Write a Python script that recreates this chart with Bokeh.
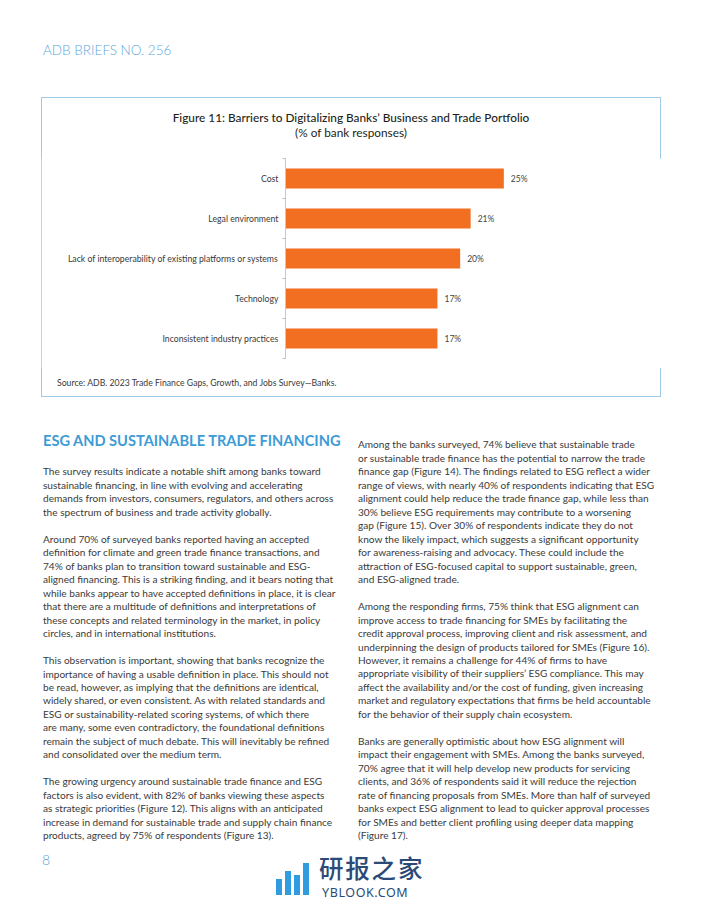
from bokeh.plotting import figure
from bokeh.models import ColumnDataSource, Range1d, FixedTicker, Div
from bokeh.layouts import column
from bokeh.core.properties import value
from bokeh.embed import file_html
from bokeh.resources import INLINE

# ---------------- chart data ----------------
categories = [
    "Cost",
    "Legal environment",
    "Lack of interoperability of existing platforms or systems",
    "Technology",
    "Inconsistent industry practices",
]
shares = [25.0, 21.2, 20.0, 17.4, 17.4]
chart_title = "Figure 11: Barriers to Digitalizing Banks\u2019 Business and Trade Portfolio"
chart_subtitle = "(% of bank responses)"
source_note = "Source: ADB. 2023 Trade Finance Gaps, Growth, and Jobs Survey\u2014Banks."

# ---------------- page text ----------------
header_text = "ADB BRIEFS NO. 256"
section_heading = "ESG AND SUSTAINABLE TRADE FINANCING"
left_paragraphs = [
    ["The survey results indicate a notable shift among banks toward",
     "sustainable financing, in line with evolving and accelerating",
     "demands from investors, consumers, regulators, and others across",
     "the spectrum of business and trade activity globally."],
    ["Around 70% of surveyed banks reported having an accepted",
     "definition for climate and green trade finance transactions, and",
     "74% of banks plan to transition toward sustainable and ESG-",
     "aligned financing. This is a striking finding, and it bears noting that",
     "while banks appear to have accepted definitions in place, it is clear",
     "that there are a multitude of definitions and interpretations of",
     "these concepts and related terminology in the market, in policy",
     "circles, and in international institutions."],
    ["This observation is important, showing that banks recognize the",
     "importance of having a usable definition in place. This should not",
     "be read, however, as implying that the definitions are identical,",
     "widely shared, or even consistent. As with related standards and",
     "ESG or sustainability-related scoring systems, of which there",
     "are many, some even contradictory, the foundational definitions",
     "remain the subject of much debate. This will inevitably be refined",
     "and consolidated over the medium term."],
    ["The growing urgency around sustainable trade finance and ESG",
     "factors is also evident, with 82% of banks viewing these aspects",
     "as strategic priorities (Figure 12). This aligns with an anticipated",
     "increase in demand for sustainable trade and supply chain finance",
     "products, agreed by 75% of respondents (Figure 13)."],
]
right_paragraphs = [
    ["Among the banks surveyed, 74% believe that sustainable trade",
     "or sustainable trade finance has the potential to narrow the trade",
     "finance gap (Figure 14). The findings related to ESG reflect a wider",
     "range of views, with nearly 40% of respondents indicating that ESG",
     "alignment could help reduce the trade finance gap, while less than",
     "30% believe ESG requirements may contribute to a worsening",
     "gap (Figure 15). Over 30% of respondents indicate they do not",
     "know the likely impact, which suggests a significant opportunity",
     "for awareness-raising and advocacy. These could include the",
     "attraction of ESG-focused capital to support sustainable, green,",
     "and ESG-aligned trade."],
    ["Among the responding firms, 75% think that ESG alignment can",
     "improve access to trade financing for SMEs by facilitating the",
     "credit approval process, improving client and risk assessment, and",
     "underpinning the design of products tailored for SMEs (Figure 16).",
     "However, it remains a challenge for 44% of firms to have",
     "appropriate visibility of their suppliers\u2019 ESG compliance. This may",
     "affect the availability and/or the cost of funding, given increasing",
     "market and regulatory expectations that firms be held accountable",
     "for the behavior of their supply chain ecosystem."],
    ["Banks are generally optimistic about how ESG alignment will",
     "impact their engagement with SMEs. Among the banks surveyed,",
     "70% agree that it will help develop new products for servicing",
     "clients, and 36% of respondents said it will reduce the rejection",
     "rate of financing proposals from SMEs. More than half of surveyed",
     "banks expect ESG alignment to lead to quicker approval processes",
     "for SMEs and better client profiling using deeper data mapping",
     "(Figure 17)."],
]
page_number = "8"
watermark_cn = "研报之家"
watermark_en = "YBLOOK.COM"

BLUE = "#3d9bd6"
LIGHT_BLUE = "#5ea7da"
BOX = "#9fcbe8"
ORANGE = "#f26f21"
FONT = "Lato"
TXT = "#3a3a3a"

# ---------------- header ----------------
header_div = Div(
    text=(f'<div style="position:relative;width:686px;height:97px;">'
          f'<div style="position:absolute;left:43px;top:41px;line-height:18px;'
          f'font-family:{FONT};font-size:13.5px;font-weight:300;color:{LIGHT_BLUE};white-space:nowrap;">'
          f'{header_text}</div></div>'),
    width=686, height=97, margin=0, styles={"overflow": "visible"},
)

# ---------------- chart ----------------
ypos = [i + 0.5 for i in range(len(categories))]
labels = [f"{round(v)}%" for v in shares]
src = ColumnDataSource(dict(y=ypos, v=shares, cat=categories, lbl=labels))

title_div = Div(
    text=(f'<div style="width:620px;height:61px;position:relative;font-family:{FONT};'
          f'color:#231f20;text-align:center;">'
          f'<div style="position:absolute;left:0;width:620px;top:13px;line-height:16px;font-size:11.8px;font-weight:500;">{chart_title}</div>'
          f'<div style="position:absolute;left:0;width:620px;top:28px;line-height:16px;font-size:11.8px;">{chart_subtitle}</div>'
          f'</div>'),
    width=620, height=61, margin=0, styles={"overflow": "visible"},
)

p = figure(
    width=620, height=210,
    x_range=Range1d(0, 30), y_range=Range1d(len(categories), 0),
    output_backend="svg", toolbar_location=None,
    min_border_left=244, min_border_right=114, min_border_top=0, min_border_bottom=10,
)
p.outline_line_color = None
p.background_fill_color = "white"
p.border_fill_color = "white"
p.xgrid.visible = False
p.ygrid.visible = False
p.xaxis.visible = False

p.hbar(y="y", right="v", left=0, height=0.5, source=src,
       fill_color=ORANGE, line_color=None)
p.text(x="v", y="y", text="lbl", source=src, x_offset=7,
       text_baseline="middle", text_align="left",
       text_font=value(FONT), text_font_size="8.5px", text_color="#444444")

ya = p.yaxis[0]
ya.ticker = FixedTicker(ticks=ypos, minor_ticks=list(range(len(categories) + 1)))
ya.major_label_overrides = {y: c for y, c in zip(ypos, categories)}
ya.major_tick_line_color = None
ya.major_tick_out = 0
ya.major_tick_in = 0
ya.minor_tick_out = 3
ya.minor_tick_in = 0
ya.minor_tick_line_color = "#bdbdbd"
ya.axis_line_color = "#c8c8c8"
ya.major_label_standoff = 4
ya.major_label_text_font = FONT
ya.major_label_text_font_size = "8.7px"
ya.major_label_text_color = TXT

source_div = Div(
    text=(f'<div style="width:620px;height:29px;position:relative;">'
          f'<div style="position:absolute;left:16px;top:8px;line-height:14px;font-family:{FONT};'
          f'font-size:8.7px;color:{TXT};white-space:nowrap;">{source_note}</div></div>'),
    width=620, height=29, margin=0, styles={"overflow": "visible"},
)

chart_box = column(title_div, p, source_div, width=620, height=300,
                   styles={"outline": f"1.5px solid {BOX}", "outline-offset": "-1px",
                           "background": "white"})
chart_box.margin = (0, 0, 0, 41)

# ---------------- body text ----------------
LH = 13.48


def para_html(paras):
    return "<br><br>".join("<br>".join(lines) for lines in paras)


# simple watermark icon (decorative bars)
icon_bars = "".join(
    f'<div style="position:absolute;left:{276 + i * 9}px;top:{498 - h}px;width:6px;height:{h}px;background:#2f9be0;"></div>'
    for i, h in enumerate([16, 24, 20, 32])
)

body_html = (
    f'<div style="position:relative;width:686px;height:500px;font-family:{FONT};">'
    f'<div style="position:absolute;left:43px;top:35px;line-height:18px;font-size:14.6px;'
    f'font-weight:bold;color:{BLUE};white-space:nowrap;">{section_heading}</div>'
    f'<div style="position:absolute;left:43px;top:{75 - LH / 2:.2f}px;line-height:{LH}px;'
    f'font-size:10.1px;color:{TXT};white-space:nowrap;">{para_html(left_paragraphs)}</div>'
    f'<div style="position:absolute;left:358px;top:{48 - LH / 2:.2f}px;line-height:{LH}px;'
    f'font-size:10.1px;color:{TXT};white-space:nowrap;">{para_html(right_paragraphs)}</div>'
    f'<div style="position:absolute;left:42px;top:454px;line-height:18px;font-size:14px;'
    f'font-weight:300;color:{LIGHT_BLUE};">{page_number}</div>'
    f'{icon_bars}'
    f'<div style="position:absolute;left:319px;top:459px;line-height:24px;font-size:24.5px;'
    f'font-family:\'Noto Sans CJK SC\';font-weight:500;color:#2b4a78;letter-spacing:1.8px;white-space:nowrap;">{watermark_cn}</div>'
    f'<div style="position:absolute;left:322px;top:489px;line-height:13px;font-size:12.5px;'
    f'font-family:\'Noto Sans\';color:#2b4a78;letter-spacing:0.6px;white-space:nowrap;">{watermark_en}</div>'
    f'</div>'
)
body_div = Div(text=body_html, width=686, height=500, margin=0, styles={"overflow": "visible"})

page = column(header_div, chart_box, body_div)

open("out.html", "w").write(file_html(page, INLINE))
